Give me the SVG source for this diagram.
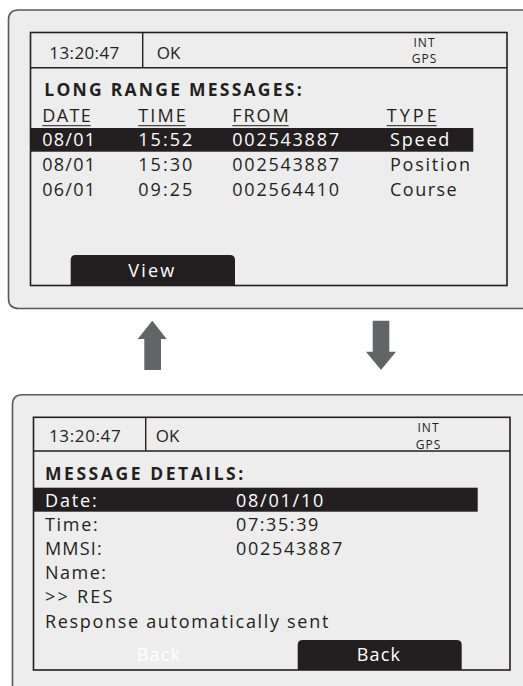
<svg xmlns="http://www.w3.org/2000/svg" width="523" height="686" viewBox="0 0 523 686">
<style>
.panel{fill:#ededed;stroke:#58595b;stroke-width:1.6}
.pfill{fill:#ededed;stroke:none}
.pline{fill:none;stroke:#58595b;stroke-width:1.6}
.screen{fill:#ededed;stroke:#231f20;stroke-width:1.6}
.sep{stroke:#231f20;stroke-width:1.4;fill:none}
.bar{fill:#231f20}
.t{font-family:"Open Sans","Liberation Sans",sans-serif;fill:#231f20}
.st{font-size:17px}
.sm{font-size:12px;letter-spacing:1px}
.hd{font-size:17.5px;font-weight:bold}
.row{font-size:18px}
.w{fill:#ffffff}
.ul{stroke:#231f20;stroke-width:1}
.arrow{fill:#636466}
</style>
<rect width="523" height="686" fill="#ffffff"/>
<g id="screen-list">
  <path class="panel" d="M540 10 H18.5 Q8.5 10 8.5 20 V298.5 Q8.5 308.5 18.5 308.5 H540 Z"/>
  <rect class="screen" x="30.5" y="32.5" width="476.5" height="253"/>
  <path class="sep" d="M30.5 67.7 H507 M142.7 32.5 V67.7"/>
  <text class="t st" x="49.3" y="59" textLength="70">13:20:47</text>
  <text class="t st" x="156.7" y="59">OK</text>
  <text class="t sm" x="424.5" y="46.5" text-anchor="middle">INT</text>
  <text class="t sm" x="424.5" y="63" text-anchor="middle">GPS</text>
  <text class="t hd" x="44.3" y="96" textLength="257.4">LONG RANGE MESSAGES:</text>
  <text class="t row" x="42.3" y="122.3" textLength="48.4">DATE</text>
  <text class="t row" x="138.3" y="122.3" textLength="47.4">TIME</text>
  <text class="t row" x="232.3" y="122.3" textLength="56.4">FROM</text>
  <text class="t row" x="386.7" y="122.3" textLength="50">TYPE</text>
  <path class="ul" d="M42.3 125.7 H90.7 M138.3 125.7 H185.7 M232.3 125.7 H288.7 M386.7 125.7 H436.7"/>
  <rect class="bar" x="30.7" y="128" width="442.6" height="23.7"/>
  <text class="t row w" x="42.3" y="145.7" textLength="52.7">08/01</text>
  <text class="t row w" x="138.3" y="145.7" textLength="54">15:52</text>
  <text class="t row w" x="232.3" y="145.7" textLength="106.7">002543887</text>
  <text class="t row w" x="390" y="145.7" textLength="59.3">Speed</text>
  <text class="t row" x="42.3" y="170.7" textLength="52.7">08/01</text>
  <text class="t row" x="138.3" y="170.7" textLength="54">15:30</text>
  <text class="t row" x="232.3" y="170.7" textLength="106.7">002543887</text>
  <text class="t row" x="390" y="170.7" textLength="80">Position</text>
  <text class="t row" x="42.3" y="195.7" textLength="52.7">06/01</text>
  <text class="t row" x="138.3" y="195.7" textLength="54">09:25</text>
  <text class="t row" x="232.3" y="195.7" textLength="106.7">002564410</text>
  <text class="t row" x="390" y="195.7" textLength="66.7">Course</text>
  <path class="bar" d="M70.7 285.5 V260 Q70.7 255 75.7 255 H230 Q235 255 235 260 V285.5 Z"/>
  <text class="t row w" x="128.3" y="276.7" textLength="46">View</text>
</g>
<g id="connectors">
  <path class="arrow" d="M152.3 320.7 L166.7 339 H161 V370 H144.3 V339 H137.7 Z"/>
  <path class="arrow" d="M372.7 320.7 H389.3 V351.7 H396 L381 370 L366 351.7 H372.7 Z"/>
</g>
<g id="screen-details">
  <path class="pfill" d="M540 394.7 H22.5 Q12.5 394.7 12.5 404.7 V700 H540 Z"/>
  <path class="pline" d="M540 394.7 H22.5 Q12.5 394.7 12.5 404.7 V700"/>
  <rect class="screen" x="33.5" y="417.3" width="476.5" height="252.7"/>
  <path class="sep" d="M33.5 451 H510 M145.7 417.3 V451"/>
  <text class="t st" x="49" y="441.7" textLength="71.7">13:20:47</text>
  <text class="t st" x="155.7" y="441.7">OK</text>
  <text class="t sm" x="428.5" y="432" text-anchor="middle">INT</text>
  <text class="t sm" x="428.5" y="448.5" text-anchor="middle">GPS</text>
  <text class="t hd" x="45" y="480" textLength="198.3">MESSAGE DETAILS:</text>
  <rect class="bar" x="33.5" y="487.7" width="444.2" height="24"/>
  <text class="t row w" x="45" y="506.7" textLength="51.7">Date:</text>
  <text class="t row w" x="236" y="506.7" textLength="87.3">08/01/10</text>
  <text class="t row" x="45" y="530.7" textLength="52.7">Time:</text>
  <text class="t row" x="236" y="530.7" textLength="82.3">07:35:39</text>
  <text class="t row" x="45" y="555" textLength="56.7">MMSI:</text>
  <text class="t row" x="236" y="555" textLength="106.3">002543887</text>
  <text class="t row" x="45" y="579.3" textLength="61">Name:</text>
  <text class="t row" x="45" y="603.3" textLength="67.3">&gt;&gt; RES</text>
  <text class="t row" x="45" y="627.7" textLength="283.3">Response automatically sent</text>
  <text class="t row w" x="136.7" y="660.7" textLength="43.3">Back</text>
  <path class="bar" d="M297.7 670 V645 Q297.7 640 302.7 640 H456.7 Q461.7 640 461.7 645 V670 Z"/>
  <text class="t row w" x="356.7" y="660.7" textLength="43.3">Back</text>
</g>
</svg>
